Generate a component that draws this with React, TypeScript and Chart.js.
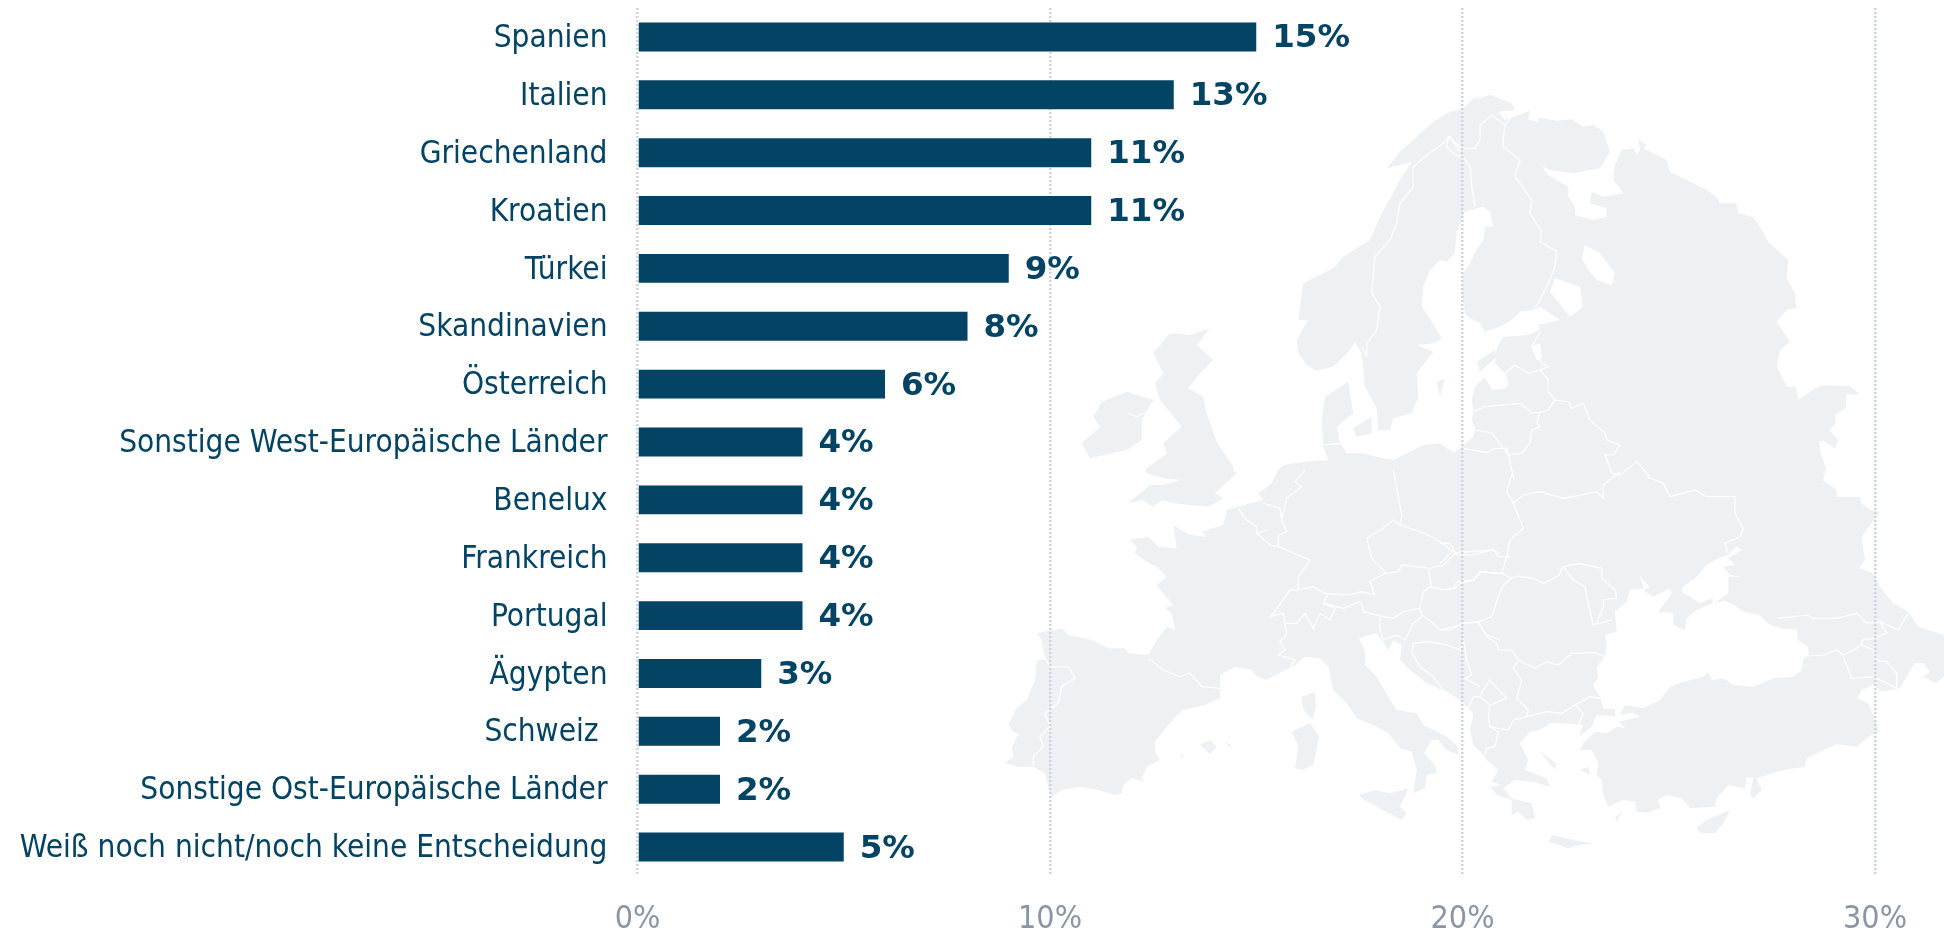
import React, { useEffect, useRef } from "react";
import { Chart, registerables } from "chart.js";

Chart.register(...registerables);

const categories = ["Spanien", "Italien", "Griechenland", "Kroatien", "Türkei", "Skandinavien", "Österreich", "Sonstige West-Europäische Länder", "Benelux", "Frankreich", "Portugal", "Ägypten", "Schweiz ", "Sonstige Ost-Europäische Länder", "Weiß noch nicht/noch keine Entscheidung"];
const shares = [15, 13, 11, 11, 9, 8, 6, 4, 4, 4, 4, 3, 2, 2, 5];
const axisMax = 30;
const axisStep = 10;

const FONT = '"DejaVu Sans Condensed", "DejaVu Sans", sans-serif';
const BOLD_FONT = '"DejaVu Sans", sans-serif';
const NAVY = "#034364";

// Decorative backdrop (Europe silhouette). Outlines are traced per map quadrant.
const A = [1000, 80];
const B = [1440, 80];
const C = [1000, 470];
const D = [1440, 470];
const at = (o: number[], s: string) =>
  s.trim().split(/\s+/).map((p) => {
    const [x, y] = p.split(",").map(Number);
    return `${(o[0] + x / 3).toFixed(1)},${(o[1] + y / 3).toFixed(1)}`;
  }).join(" ");

const landShapes = [
  [
    at(A, "1160,265 1200,215 1250,170 1300,125 1350,95 1390,85 1420,55 1450,45"),
    at(B, "100,60 150,45 215,70 225,90 175,95 195,120 270,92 265,120 295,125 295,112 350,122 395,118 430,140 460,135 490,155 510,215 480,265 400,280 330,270 305,258 325,285 385,320 385,350 405,380 405,405 460,420 500,410 500,385 450,370 455,335 490,350 550,340 520,300 525,255 545,210 580,205 590,225 600,210 595,178 620,195 610,205 680,240 690,275 800,330 835,355 838,370 888,370 895,400 940,412 965,450 985,485 1045,540 1040,595 1065,640 1068,675 1075,682 1040,690 1010,725 1050,785 1020,810 1010,860 1040,920 1068,922 1075,960 1120,928 1145,916 1230,918 1258,942 1240,945 1220,940 1218,985 1185,1005 1188,1030 1168,1050 1195,1080 1185,1105 1150,1082 1138,1085 1142,1120 1158,1165 1150,1200"),
    at(D, "1145,30 1190,60 1190,80 1260,80 1265,100 1290,120 1320,125 1265,200 1275,270 1258,295 1300,310 1320,350 1360,400 1405,425 1435,470 1512,495 1512,620 1487,640 1450,620 1470,605 1450,580 1425,578 1400,620 1380,655 1325,665 1300,645 1265,660 1252,685 1285,700 1305,750 1318,785 1285,800 1250,830 1190,822 1130,850 1100,865 1095,890 1030,900 950,925 965,960 940,985 930,975 940,925 920,920 915,955 865,945 830,985 825,1010 750,1015 725,985 680,975 655,990 660,1015 620,1028 590,1025 585,995 550,990 505,1010 490,975 485,930 470,915 475,880 455,840 420,840 430,820 465,785 500,790 530,770 555,775 535,755 600,740 575,728 540,735 555,705 610,715 660,690 690,650 730,635 790,620 805,605 815,630 850,625 880,645 940,650 1000,625 1060,620 1085,600 1090,570 1105,555 1105,530 1075,510 1070,478 1030,478 985,462 960,435 910,425 885,408 855,392 825,400 865,370 865,320 905,320 870,315 850,290 885,285 865,265 905,240 890,228 865,255 835,265 800,285 770,320 730,350 725,365 780,400 818,385 818,400 770,420 740,445 735,480 700,465 700,430 655,425 695,372 690,355 640,380 610,362 630,350 600,320 612,355 570,360 560,395 525,425 530,485 495,495 500,520 495,560 470,590 475,625 458,645 480,680 490,715 525,718 525,738 470,735 455,770 415,800 430,765 370,760 330,760 300,780 270,785 240,820 265,870 255,900 320,925 330,950 280,935 225,930 190,955 215,985 275,1000 285,1045 260,1050 235,1025 215,1035 215,990 170,975 150,950 185,945 155,935 175,900 140,870 130,855 100,825 90,780 100,730 85,715 60,690"),
    at(C, "1380,690 1340,665 1280,640 1230,600 1200,570 1205,525 1180,510 1165,540 1145,510 1130,490 1090,500 1078,505 1095,545 1095,585 1130,620 1165,680 1190,720 1250,730 1270,765 1340,800 1375,830 1375,855 1340,840 1315,810 1295,810 1272,850 1305,885 1310,908 1280,915 1275,955 1240,970 1250,900 1235,845 1200,835 1165,790 1120,765 1070,745 1040,700 1000,660 985,590 960,565 915,560 885,585 855,600 800,630 770,620 755,600 705,590 660,615 660,685 615,705 550,720 530,735 510,760 465,815 465,845 480,870 440,890 425,925 435,935 395,925 370,945 365,970 345,975 295,960 240,950 185,960 155,980 145,955 135,910 100,890 55,890 15,880 40,860 35,835 50,800 60,795 40,785 25,765 50,715 80,690 105,630 110,570 135,565 125,510 110,490 185,475 205,495 275,510 325,535 375,535 385,550 445,555 470,510 500,470 525,480 515,430 495,415 520,405 490,370 470,345 500,320 470,290 440,275 405,250 410,230 390,210 445,200 475,230 530,235 520,165 570,195 620,200 605,185 670,165 680,120 750,100 790,90 775,70 815,40 830,10 835,0"),
    at(A, "850,1155 915,1145 985,1140 970,1100 965,1020 975,950 1045,905 1060,1000 1010,1040 1020,1090 1040,1120 1090,1120 1130,1130 1180,1140 1270,1095 1320,1090"),
    at(B, "40,1118 65,1100 100,1070 105,1045 95,1020 100,990 95,960 105,920 135,890 155,930 200,925 205,905 195,880 165,850 170,805 190,770 265,765 300,750 295,735 360,720 330,700 300,680 285,690 240,695 215,720 180,740 135,755 120,730 90,715 75,700 65,640 70,580 90,550 105,515 130,480 135,440 160,440 150,395 130,380 110,385 75,395 50,455 45,520 20,545 0,540"),
    at(A, "1290,570 1270,620 1265,680 1295,725 1325,775 1305,790 1250,795 1300,815 1250,880 1255,950 1235,1000 1180,1015 1170,1050 1135,1050 1130,985 1095,920 1085,820 1065,785 1050,810 1000,860 950,872 920,855 895,820 890,780 925,720 895,720 910,610 1000,565 1030,530 1110,480 1140,410 1200,300 1235,245"),
  ].join(" "),
  [
    at(C, "700,0 710,10 665,50 645,70 670,85 625,110 570,105 520,100 485,90 460,110 425,90 385,100 420,70 450,45 490,45 540,30 490,25 440,10 435,0"),
    at(A, "500,1120 490,1090 545,1040 505,990 480,960 465,910 490,880 460,820 510,760 570,765 630,745 590,795 640,840 590,890 565,925 610,950 620,1000 650,1085 700,1160"),
  ].join(" "),
  at(A, "305,965 380,935 460,960 425,1020 425,1080 380,1110 270,1135 245,1090 300,1040 280,1010"),
  at(A, "1060,1045 1115,1010 1115,1060 1070,1070"),
  at(A, "1310,905 1335,895 1320,950"),
  at(B, "110,845 165,810 170,830 120,875"),
  at(C, "905,680 945,665 948,710 938,750 910,720"),
  at(C, "875,785 930,760 958,800 940,885 905,900 885,895 895,830"),
  at(C, "600,825 630,810 650,830 630,852"),
  at(C, "672,815 695,825 690,830"),
  at(C, "538,858 550,855 550,865"),
  at(C, "1078,975 1125,960 1170,970 1225,955 1200,1010 1220,1030 1205,1050 1150,1020 1085,985"),
  at(D, "325,1115 335,1095 400,1110 460,1120 420,1125 385,1135"),
  at(D, "770,1075 800,1050 870,1020 850,1060 825,1090 780,1090"),
  at(D, "525,1040 548,1025 530,1055"),
  at(D, "420,900 445,890 450,915"),
  at(D, "300,845 350,880 345,900"),
];
const lakeShapes = [
  at(B, "345,595 420,620 430,680 390,710 330,635"),
  at(B, "435,495 480,520 525,580 515,615 470,600 445,570 425,535"),
  at(B, "275,800 300,790 305,835 290,840"),
];
const borderLines = [
  at(A, "1380,215 1350,170 1330,190 1275,230 1240,260 1240,320 1200,370 1190,430 1170,480 1125,530 1115,640 1140,680 1130,750 1100,790 1100,830 1085,800"),
  at(B, "65,205 25,170 20,200 45,225 70,230 90,260 95,320 105,380"),
  at(B, "65,205 105,205 120,180 120,135 155,105 195,135 190,175 190,200 240,240 225,290 275,360 270,400 305,455 300,485 350,515 345,560 325,610 300,660 280,690"),
  at(B, "195,135 215,110"),
  at(B, "195,880 225,855 265,880 300,870"),
  at(B, "300,755 275,800 305,850 325,860 300,870 325,900 325,935 345,960"),
  at(B, "100,995 135,980 240,970 275,998 300,998"),
  at(B, "345,960 325,990 300,998 290,1030 300,1040 275,1050 270,1090 245,1120 205,1125 222,1200"),
  at(B, "345,960 385,965 395,985 430,970 450,1020 495,1060 500,1080 540,1095 520,1125 495,1125 515,1180 540,1185 590,1145 630,1190"),
  at(D, "620,20 670,40 690,80 765,60 800,80 885,80 885,130 910,175 900,200 855,220 865,250"),
  at(B, "70,1105 140,1118 165,1105 200,1105 205,1125 170,1078 155,1058 105,1050"),
  at(D, "220,0 200,65 220,100 250,175 210,210 200,260 185,310"),
  at(D, "220,100 250,75 300,65 370,85 425,75 470,65 490,85 490,45 540,5"),
  at(D, "0,220 30,220 50,255 100,255 160,238 175,260 210,260"),
  at(D, "0,280 30,250"),
  at(D, "0,360 40,355 50,335 100,330 125,305 165,310 185,310 215,325 230,318 280,325 310,340 355,318 370,290 415,280 485,295 485,325 525,360 530,385 490,390 490,410 470,460 460,465"),
  at(D, "370,290 400,330 435,350 445,400 460,465 515,450"),
  at(D, "215,325 190,345 175,380 155,440 115,455 70,462 0,480"),
  at(D, "115,455 140,500 170,520 175,540 215,540 235,570 285,595 320,575 355,585 395,550 465,548 495,560"),
  at(D, "235,570 220,595 245,630 230,685 265,720 260,740 320,725 365,730 405,705 430,730 415,765"),
  at(D, "405,705 450,680 480,685"),
  at(D, "120,675 150,630 180,665 200,685 150,705 145,745 150,770 205,780 220,750 260,740"),
  at(D, "100,680 85,715"),
  at(D, "150,705 120,680 100,680"),
  at(D, "150,770 175,785 165,830 140,835 135,855"),
  at(C, "1240,520 1235,545 1260,590 1300,620 1330,660 1370,690"),
  at(C, "1240,520 1290,515 1340,525 1380,540 1390,510 1400,570 1415,615 1395,625 1440,650"),
  at(C, "1265,435 1300,460 1320,480 1350,480 1390,460 1430,455 1460,495 1500,510"),
  at(C, "1085,400 1090,425 1150,440 1180,445 1210,425 1260,415 1265,435"),
  at(C, "1140,440 1140,480 1150,510 1190,495 1215,510 1240,460 1265,440"),
  at(C, "1260,415 1270,365 1290,350 1335,360 1365,355 1380,340 1420,330 1440,305 1500,310"),
  at(C, "1285,295 1290,325 1295,350"),
  at(C, "895,360 940,350 975,370 1045,375 1085,365 1125,375 1110,335 1145,315 1160,310"),
  at(C, "1160,310 1115,265 1100,205 1150,175 1180,150 1200,165 1260,185 1285,195 1320,215 1365,250 1330,285 1290,295 1205,285 1195,305 1160,310"),
  at(C, "1365,250 1400,245 1480,240 1500,250"),
  at(C, "1180,0 1195,80 1205,135 1200,165"),
  at(C, "895,360 870,360 820,430 810,440 850,430 855,460 890,460 915,430 940,475 960,430 990,450 1005,415 970,400 985,370"),
  at(C, "970,400 1030,415 1080,395 1085,400"),
  at(C, "855,460 860,495 840,515 855,540 835,555 885,570 870,590"),
  at(C, "895,360 895,320 930,270 860,240 835,230 810,225 770,190 800,180"),
  at(C, "835,230 835,195 860,185 845,150 860,85 905,50 885,35 915,0"),
  at(C, "715,115 740,150 770,170 770,190"),
  at(C, "790,100 840,115 845,150"),
  at(C, "445,565 490,600 540,620 570,610 605,650 660,655"),
  at(C, "110,570 135,565 150,590 205,590 225,625 185,650 175,700 135,730 150,770 120,800 130,830 100,860 100,885"),
  at(D, "1015,445 1100,435 1120,445 1190,445 1250,430 1280,460 1320,455 1375,480 1405,430"),
  at(D, "1105,558 1150,555 1190,540 1210,555 1240,540 1265,525 1300,540 1305,570 1340,575 1370,610 1370,655"),
  at(D, "1320,455 1340,490 1300,505 1265,510 1265,525"),
  at(D, "1210,560 1235,625 1300,620 1370,655"),
  at(A, "385,1000 410,1010 460,985"),
  at(A, "970,1095 1020,1090"),
];

const valueLabels = {
  id: "valueLabels",
  afterDatasetsDraw(chart: any) {
    const { ctx } = chart;
    const meta = chart.getDatasetMeta(0);
    ctx.save();
    ctx.font = `bold 32.5px ${BOLD_FONT}`;
    ctx.fillStyle = NAVY;
    ctx.textAlign = "left";
    ctx.textBaseline = "middle";
    meta.data.forEach((bar: any, i: number) => {
      ctx.fillText(`${shares[i]}%`, bar.x + 16, bar.y + 2);
    });
    ctx.restore();
  },
};

export default function App() {
  const ref = useRef<HTMLCanvasElement>(null);
  useEffect(() => {
    const chart = new Chart(ref.current as HTMLCanvasElement, {
      type: "bar",
      data: {
        labels: categories,
        datasets: [{ data: shares, backgroundColor: NAVY, barPercentage: 0.5, categoryPercentage: 1 }],
      },
      options: {
        indexAxis: "y",
        animation: false,
        responsive: false,
        layout: { padding: { top: 8, right: 69, left: 0, bottom: 0 } },
        plugins: { legend: { display: false }, tooltip: { enabled: false } },
        scales: {
          x: {
            min: 0,
            max: axisMax,
            afterFit: (s: any) => { s.height = 57; },
            grid: { color: "#d0d5da", lineWidth: 2.5, drawTicks: false },
            border: { display: false, dash: [2, 2] },
            ticks: { stepSize: axisStep, color: "#8a96a3", padding: 24, maxRotation: 0, font: { family: FONT, size: 32 }, callback: (v: any) => `${v}%` },
          },
          y: {
            afterFit: (s: any) => { s.width = 637.5; s.paddingTop = 0; s.paddingBottom = 0; },
            grid: { display: false },
            border: { display: false },
            ticks: { color: NAVY, padding: 22, labelOffset: 2, autoSkip: false, font: { family: FONT, size: 31.3 } },
          },
        },
      },
      plugins: [valueLabels],
    } as any);
    return () => chart.destroy();
  }, []);

  return (
    <div style={{ position: "absolute", left: 0, top: 0, width: 1944, height: 933, overflow: "hidden", background: "#fff" }}>
      <svg viewBox="0 0 1944 933" width={1944} height={933} style={{ position: "absolute", left: 0, top: 0 }}>
        {landShapes.map((p, i) => <polygon key={i} points={p} fill="#eef1f4" stroke="none" />)}
        {lakeShapes.map((p, i) => <polygon key={i} points={p} fill="#ffffff" />)}
        {borderLines.map((p, i) => <polyline key={i} points={p} fill="none" stroke="#ffffff" strokeWidth={1.2} />)}
      </svg>
      <canvas ref={ref} width={1944} height={933} style={{ position: "absolute", left: 0, top: 0, display: "block" }} />
    </div>
  );
}
